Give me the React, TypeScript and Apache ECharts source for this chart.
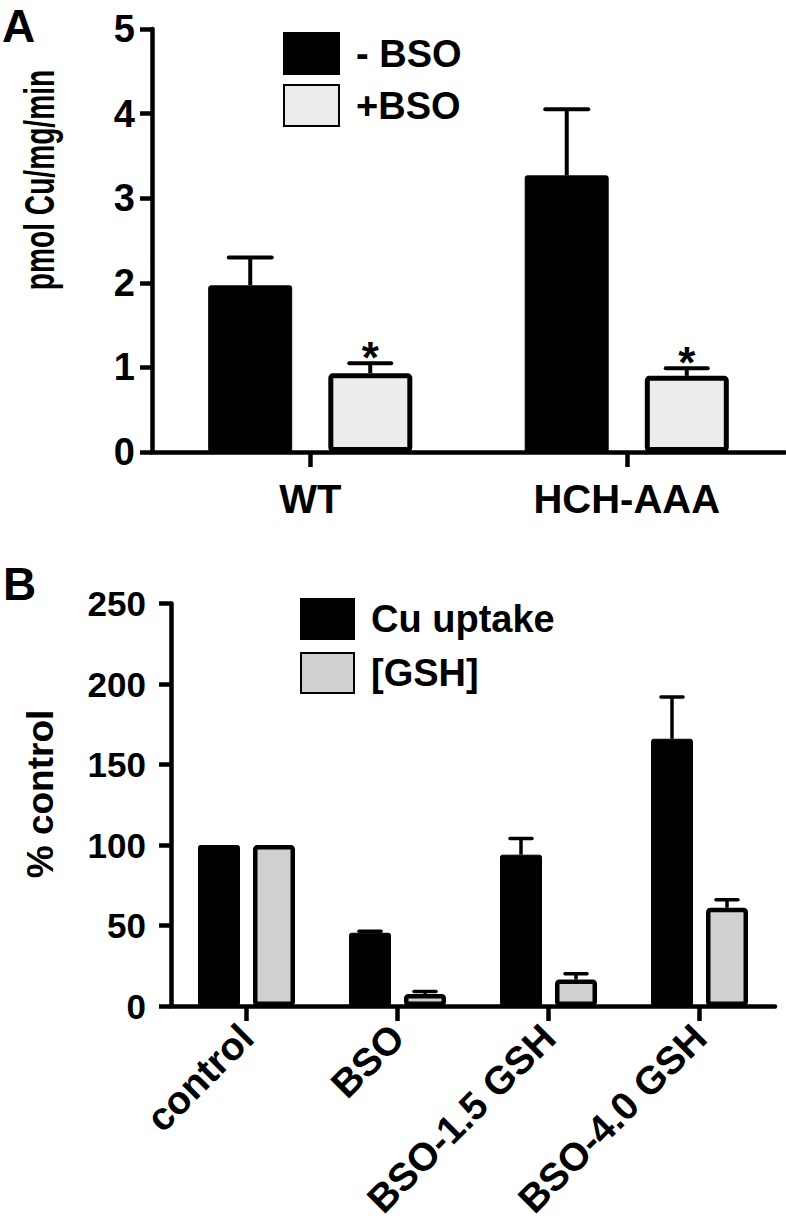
import React, { useEffect, useRef } from 'react';
import * as echarts from 'echarts';

// ---------- Panel A data ----------
const catA = ['WT', 'HCH-AAA'];
const minusBSO = [1.97, 3.27];
const minusBSOErr = [0.33, 0.78];
const plusBSO = [0.93, 0.9];
const plusBSOErr = [0.12, 0.09];
const plusBSOSig = ['*', '*'];

// ---------- Panel B data ----------
const catB = ['control', 'BSO', 'BSO-1.5 GSH', 'BSO-4.0 GSH'];
const cuUptake = [100, 45.5, 94, 166];
const cuUptakeErr = [0, 1, 10, 26];
const gsh = [100, 7.5, 16.5, 61];
const gshErr = [0, 1.5, 3.5, 5];

const FONT = '"Liberation Sans", Arial, Helvetica, sans-serif';
const AX = 4.5;

function errSeries(
  idx: number,
  means: number[],
  errs: number[],
  offset: number,
  capW: number,
  lw: number,
  sig?: string[]
) {
  return {
    type: 'custom',
    xAxisIndex: idx,
    yAxisIndex: idx,
    z: 5,
    silent: true,
    data: means.map((m, i) => [i, m, m + errs[i]]),
    encode: { x: 0, y: [1, 2] },
    renderItem: (params: any, api: any) => {
      const i = api.value(0);
      const m = api.value(1);
      const t = api.value(2);
      const p0 = api.coord([i, m]);
      const p1 = api.coord([i, t]);
      const cx = p0[0] + offset;
      const children: any[] = [];
      if (t > m) {
        children.push({
          type: 'line',
          shape: { x1: cx, y1: p0[1], x2: cx, y2: p1[1] },
          style: { stroke: '#000', lineWidth: lw },
        });
        children.push({
          type: 'line',
          shape: { x1: cx - capW / 2, y1: p1[1], x2: cx + capW / 2, y2: p1[1] },
          style: { stroke: '#000', lineWidth: lw, lineCap: 'round' },
        });
      }
      if (sig && sig[params.dataIndex]) {
        children.push({
          type: 'text',
          style: {
            text: sig[params.dataIndex],
            x: cx,
            y: p1[1] - 6,
            align: 'center',
            verticalAlign: 'middle',
            fontSize: 44,
            fontWeight: 'bold',
            fontFamily: FONT,
            fill: '#000',
          },
        });
      }
      return { type: 'group', children };
    },
  };
}

function catAxis(idx: number, data: string[], label: any) {
  return {
    gridIndex: idx,
    type: 'category',
    data,
    axisLine: { show: true, lineStyle: { color: '#000', width: AX } },
    axisTick: {
      show: true,
      alignWithLabel: true,
      length: 15,
      lineStyle: { color: '#000', width: AX },
    },
    axisLabel: {
      color: '#000',
      fontFamily: FONT,
      fontWeight: 'bold',
      ...label,
    },
    splitLine: { show: false },
  };
}

function valAxis(idx: number, max: number, interval: number, fontSize: number, margin: number) {
  return {
    gridIndex: idx,
    type: 'value',
    min: 0,
    max,
    interval,
    axisLine: { show: true, lineStyle: { color: '#000', width: AX } },
    axisTick: { show: true, length: 12, lineStyle: { color: '#000', width: AX } },
    axisLabel: {
      color: '#000',
      fontFamily: FONT,
      fontWeight: 'bold',
      fontSize,
      margin,
    },
    splitLine: { show: false },
  };
}

const legendText = {
  color: '#000',
  fontFamily: FONT,
  fontWeight: 'bold',
  fontSize: 38,
  padding: [0, 0, 0, 12],
};

export default function App() {
  const ref = useRef<HTMLDivElement>(null);

  useEffect(() => {
    if (!ref.current) return;
    const chart = echarts.init(ref.current, undefined, { renderer: 'svg' });
    const option: any = {
      animation: false,
      backgroundColor: '#fff',
      grid: [
        { left: 152, top: 29, width: 633, height: 423, containLabel: false, outerBoundsMode: 'none' },
        { left: 171, top: 603.5, width: 604, height: 402.5, containLabel: false, outerBoundsMode: 'none' },
      ],
      legend: [
        {
          data: ['- BSO', '+BSO'],
          orient: 'vertical',
          left: 278,
          top: 27,
          itemWidth: 55,
          itemHeight: 41,
          itemGap: 9,
          icon: 'rect',
          selectedMode: false,
          textStyle: legendText,
        },
        {
          data: ['Cu uptake', '[GSH]'],
          orient: 'vertical',
          left: 295,
          top: 593,
          itemWidth: 53,
          itemHeight: 40,
          itemGap: 12,
          icon: 'rect',
          selectedMode: false,
          textStyle: legendText,
        },
      ],
      xAxis: [
        catAxis(0, catA, { fontSize: 40, margin: 27 }),
        catAxis(1, catB, { fontSize: 39, margin: 25, rotate: 45, interval: 0 }),
      ],
      yAxis: [valAxis(0, 5, 1, 38, 17), valAxis(1, 250, 50, 35, 25)],
      graphic: [
        {
          type: 'text',
          left: 2,
          top: 3,
          style: { text: 'A', fontSize: 46, fontWeight: 'bold', fontFamily: FONT, fill: '#000' },
        },
        {
          type: 'text',
          left: 3,
          top: 561,
          style: { text: 'B', fontSize: 46, fontWeight: 'bold', fontFamily: FONT, fill: '#000' },
        },
        {
          type: 'text',
          x: 40,
          y: 180,
          rotation: Math.PI / 2,
          scaleX: 0.67,
          style: {
            text: 'pmol Cu/mg/min',
            align: 'center',
            verticalAlign: 'middle',
            fontSize: 42,
            fontWeight: 'bold',
            fontFamily: FONT,
            fill: '#000',
          },
        },
        {
          type: 'text',
          x: 40,
          y: 794,
          rotation: Math.PI / 2,
          style: {
            text: '% control',
            align: 'center',
            verticalAlign: 'middle',
            fontSize: 37,
            fontWeight: 'bold',
            fontFamily: FONT,
            fill: '#000',
          },
        },
      ],
      series: [
        {
          name: '- BSO',
          type: 'bar',
          xAxisIndex: 0,
          yAxisIndex: 0,
          data: minusBSO,
          barWidth: 84,
          barGap: '43%',
          itemStyle: { color: '#000', borderColor: '#000', borderWidth: 1, borderRadius: 2 },
        },
        {
          name: '+BSO',
          type: 'bar',
          xAxisIndex: 0,
          yAxisIndex: 0,
          data: plusBSO,
          barWidth: 84,
          barGap: '43%',
          itemStyle: { color: '#ececec', borderColor: '#000', borderWidth: 5, borderRadius: 2 },
        },
        errSeries(0, minusBSO, minusBSOErr, -60, 43, 4),
        errSeries(0, plusBSO, plusBSOErr, 60, 42, 4, plusBSOSig),
        {
          name: 'Cu uptake',
          type: 'bar',
          xAxisIndex: 1,
          yAxisIndex: 1,
          data: cuUptake,
          barWidth: 42,
          barGap: '31%',
          itemStyle: { color: '#000', borderColor: '#000', borderWidth: 1, borderRadius: 2 },
        },
        {
          name: '[GSH]',
          type: 'bar',
          xAxisIndex: 1,
          yAxisIndex: 1,
          data: gsh,
          barWidth: 42,
          barGap: '31%',
          itemStyle: { color: '#d0d0d0', borderColor: '#000', borderWidth: 4.5, borderRadius: 2 },
        },
        errSeries(1, cuUptake, cuUptakeErr, -27.5, 22, 3.5),
        errSeries(1, gsh, gshErr, 27.5, 22, 3.5),
      ],
    };
    chart.setOption(option);
    return () => chart.dispose();
  }, []);

  return (
    <div
      ref={ref}
      style={{ position: 'absolute', left: 0, top: 0, width: 786, height: 1224, background: '#fff' }}
    />
  );
}
